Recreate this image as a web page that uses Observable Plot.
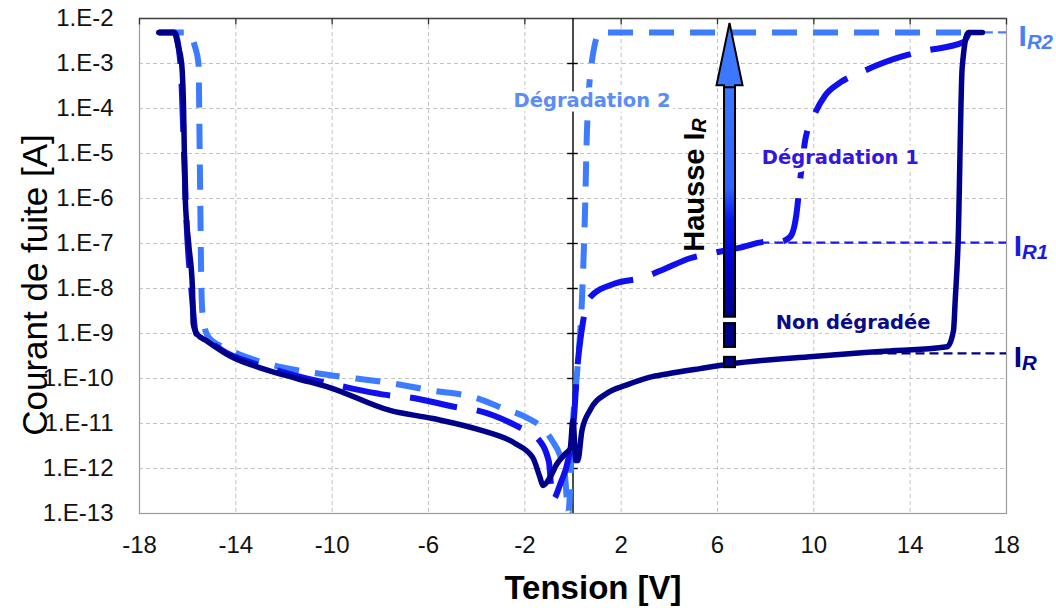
<!DOCTYPE html>
<html><head><meta charset="utf-8">
<script src="https://cdn.jsdelivr.net/npm/d3@7"></script>
<script src="https://cdn.jsdelivr.net/npm/@observablehq/plot@0.6"></script>
<style>body{margin:0;background:#fff}#chart svg{display:block}</style>
</head><body><div id="chart"></div>
<script>
// ---------- data ----------
const xTicks = [-18, -14, -10, -6, -2, 2, 6, 10, 14, 18];
const yTicks = [1e-2, 1e-3, 1e-4, 1e-5, 1e-6, 1e-7, 1e-8, 1e-9, 1e-10, 1e-11, 1e-12, 1e-13];
const yTickLabels = ["1.E-2","1.E-3","1.E-4","1.E-5","1.E-6","1.E-7","1.E-8","1.E-9","1.E-10","1.E-11","1.E-12","1.E-13"];

// Non dégradée (solid)
const nonDegV = [-17.2,-16.55,-16.4,-16.25,-16.17,-16.1,-15.96,-15.8,-15.77,-15.63,-15.22,-14.26,-12.89,-11.47,-10.1,-7.6,-5.82,-3.8,-2.4,-1.67,-1.37,-1.25,-0.96,-0.67,-0.33,-0.12,0.0,0.12,0.2,0.37,0.7,1.41,2.24,3.2,3.9,5.27,6.52,9.97,12.76,15.54,15.8,15.87,15.99,16.16,16.41,17.0];
const nonDegI = [4.9e-3,4.9e-3,2.5e-3,1e-3,1e-4,1e-6,1e-7,1e-8,1.66e-9,1e-9,6.9e-10,3.2e-10,1.66e-10,1e-10,6.3e-11,1.95e-11,1.29e-11,7e-12,3.6e-12,1.74e-12,6.3e-13,4.2e-13,6.3e-13,1.26e-12,2.1e-12,2.75e-12,1.17e-11,1.5e-12,1.5e-12,6.9e-12,1.95e-11,4.7e-11,7.2e-11,1.07e-10,1.26e-10,1.66e-10,2.1e-10,3.1e-10,4.0e-10,5.1e-10,1.17e-9,5.4e-9,1.05e-7,8.1e-4,4.9e-3,4.9e-3];

// Dégradation 1 (medium blue dashed)
const deg1V = [-17.2,-16.55,-16.3,-16.15,-16.05,-15.85,-15.65,-15.2,-14.3,-12.9,-11.4,-9.7,-7.6,-6.78,-4.83,-3.99,-2.2,-1.5,-1.0,-0.85,-0.5,-0.2,0.05,0.16,0.37,0.7,1.74,2.9,3.82,4.86,5.7,6.94,8.07,8.6,9.02,9.27,9.43,9.64,9.97,10.47,11.1,11.93,13.7,14.5,16.2,16.45];
const deg1I = [4.9e-3,4.9e-3,1e-3,1e-5,3.2e-7,1e-8,1e-9,7.1e-10,3.5e-10,1.9e-10,1.12e-10,6.9e-11,4.2e-11,3.8e-11,2.3e-11,1.95e-11,8.1e-12,4.9e-12,1.41e-12,2e-13,5e-13,1.58e-12,1.58e-11,1.26e-10,1.26e-9,6.3e-9,1.29e-8,1.74e-8,2.75e-8,4.7e-8,6e-8,8.1e-8,1.1e-7,1.1e-7,1.41e-7,4.2e-7,2.5e-6,1.95e-5,6.3e-5,1.95e-4,3.8e-4,6.3e-4,1.45e-3,1.86e-3,2.95e-3,4.9e-3];

// Dégradation 2 (light blue dashed)
const deg2V = [-17.2,-16.0,-15.71,-15.55,-15.5,-15.42,-15.34,-15.1,-14.4,-13.14,-11.35,-10.0,-7.7,-5.86,-4.08,-2.83,-1.92,-1.25,-0.87,-0.54,-0.33,-0.2,0.0,0.2,0.37,0.5,0.58,0.79,1.12,16.4];
const deg2I = [4.9e-3,4.9e-3,2.5e-3,1e-3,1e-5,6.3e-9,1.66e-9,7.9e-10,4.7e-10,2.5e-10,1.5e-10,1.17e-10,8.1e-11,5.4e-11,3.8e-11,2.1e-11,1.35e-11,7.8e-12,4.2e-12,1.95e-12,6.9e-13,1e-13,1.17e-11,2.1e-10,5.4e-9,5.4e-7,3.2e-5,1.17e-3,4.9e-3,4.9e-3];

// Reference levels I_R, I_R1, I_R2
const refNames = ["I_R", "I_R1", "I_R2"];
const refLevels = [3.6e-10, 1.05e-7, 4.9e-3];
const refStartV = [12.5, 7.8, 16.5];
const refEndV = [18, 18, 18];
const refLabelV = [18.3, 18.3, 18.5];

// Curve labels
const labelTexts = ["Dégradation 2", "Dégradation 1", "Non dégradée"];
const labelV = [0.79, 11.1, 11.63];
const labelI = [1.5e-4, 8.1e-6, 1.74e-9];

// "Hausse I_R" arrow
const arrowV = 6.52;
const arrowTipI = 7.8e-3;
const arrowHeadBaseI = 3.2e-4;
const arrowShaftBottomI = 2.3e-9;
const arrowDashTopI = [1.66e-9, 2.95e-10];
const arrowDashBottomI = [4.9e-10, 1.74e-10];
const hausseV = 5.05, hausseI = 2.0e-6;

// ---------- styling ----------
const cNavy = "#00008b", cMid = "#1010ee", cLight = "#3d7bff";
const refColors = [cNavy, "#1a1ae6", "#4a80f5"];
const labelColors = ["#5a8ef5", "#3515e0", "#0a0a8a"];
const rows = (V, I) => V.map((v, i) => ({V: v, I: I[i]}));
const refRows = refNames.map((n, i) => ({name: n, I: refLevels[i], x1: refStartV[i], x2: refEndV[i], lx: refLabelV[i], color: refColors[i]}));
const labelRows = labelTexts.map((t, i) => ({t, V: labelV[i], I: labelI[i], color: labelColors[i]}));
const decadeTicks = yTicks.slice(1, -1);
const labelFont = "'DejaVu Sans', Verdana, sans-serif";

const plot = Plot.plot({
  width: 1056, height: 608,
  marginLeft: 139, marginRight: 50, marginTop: 18, marginBottom: 95,
  style: {fontFamily: "'Liberation Sans', Arial, sans-serif", fontSize: "24px", color: "#111", background: "#fff", overflow: "visible"},
  x: {domain: [-18, 18], label: null},
  y: {type: "log", domain: [1e-13, 1e-2], label: null},
  marks: [
    Plot.gridX(xTicks.slice(1, -1), {stroke: "#c4c4c4", strokeOpacity: 1, strokeDasharray: "4,3"}),
    Plot.gridY(decadeTicks, {stroke: "#c4c4c4", strokeOpacity: 1, strokeDasharray: "4,3"}),
    Plot.frame({stroke: "#9a9a9a", strokeWidth: 1.2}),
    Plot.ruleY([1e-2], {stroke: "#444", strokeWidth: 1.6}),
    Plot.ruleX(xTicks, {y1: 1e-2, y2: 7.2e-3, stroke: "#333", strokeWidth: 1.3}),
    Plot.ruleX([0], {stroke: "#000", strokeWidth: 1.4}),
    Plot.ruleY(decadeTicks, {x1: -0.22, x2: 0.22, stroke: "#000", strokeWidth: 1.4}),
    Plot.axisX(xTicks, {tickSize: 0, tickPadding: 22, tickFormat: d => String(d), fontSize: 24, fill: "#111"}),
    Plot.axisY(yTicks, {tickSize: 0, tickPadding: 26, tickFormat: d => yTickLabels[yTicks.indexOf(d)], fontSize: 24, fill: "#111"}),
    // reference levels
    Plot.ruleY(refRows, {y: "I", x1: "x1", x2: "x2", stroke: "color", strokeWidth: 2.2, strokeDasharray: "9,5"}),
    // curves
    Plot.line(rows(deg2V, deg2I), {x: "V", y: "I", stroke: cLight, strokeWidth: 6, strokeDasharray: "25,16", strokeLinecap: "butt", curve: "monotone-x", clip: true}),
    Plot.line(rows(deg1V, deg1I), {x: "V", y: "I", stroke: cMid, strokeWidth: 6, strokeDasharray: "48,20", strokeLinecap: "butt", curve: "monotone-x", clip: true}),
    Plot.line(rows(nonDegV, nonDegI), {x: "V", y: "I", stroke: cNavy, strokeWidth: 5.5, curve: "monotone-x", clip: true}),
    // curve labels
    Plot.text(labelRows, {x: "V", y: "I", text: "t", fill: "color", stroke: "white", strokeWidth: 9, paintOrder: "stroke", strokeLinejoin: "round", fontFamily: labelFont, fontWeight: "bold", fontSize: 19.5}),
    // reference labels
    Plot.text(refRows, {x: "lx", y: "I", text: "name", fill: "color", textAnchor: "start", fontFamily: "'Liberation Sans', Arial, sans-serif", fontWeight: "bold", fontSize: 30, dy: 4}),
    // Hausse label
    Plot.text(["Hausse I_R"], {x: hausseV, y: hausseI, rotate: -90, fill: "#000", fontFamily: "'Liberation Sans Narrow', 'Arial Narrow', 'Liberation Sans', sans-serif", fontWeight: "bold", fontSize: 29}),
    // axis titles
    Plot.text(["Courant de fuite [A]"], {frameAnchor: "left", textAnchor: "middle", lineAnchor: "middle", dx: -104, dy: 19, rotate: -90, fontSize: 35, fill: "#000", fontFamily: "'Liberation Sans', Arial, sans-serif"}),
    Plot.text(["Tension [V]"], {frameAnchor: "bottom", textAnchor: "middle", lineAnchor: "middle", dx: 20, dy: 75, fontSize: 33, fontWeight: "bold", fill: "#000", fontFamily: "'Liberation Sans', Arial, sans-serif"})
  ]
});
document.getElementById("chart").appendChild(plot);

// ---------- post-processing: subscripts and arrow ----------
const svg = d3.select(plot);
svg.selectAll("text").each(function() {
  const t = this.textContent;
  if (!t.includes("_")) return;
  const [main, sub] = t.split("_");
  const el = d3.select(this);
  el.text(null);
  el.append("tspan").text(main);
  el.append("tspan").text(sub).attr("font-size", "0.68em").attr("font-style", "italic").attr("dy", "0.12em");
});

const sx = plot.scale("x"), sy = plot.scale("y");
const ax = sx.apply(arrowV);
const yTip = sy.apply(arrowTipI), yBase = sy.apply(arrowHeadBaseI), yBot = sy.apply(arrowShaftBottomI);
const defs = svg.append("defs");
const grad = defs.append("linearGradient").attr("id", "hausseGrad").attr("x1", 0).attr("y1", 0).attr("x2", 0).attr("y2", 1);
[[0, "#3c78ff"], [0.45, "#2f62ff"], [0.58, "#0a18f0"], [0.78, "#0000cc"], [1, "#00008e"]].forEach(([o, c]) => grad.append("stop").attr("offset", o).attr("stop-color", c));
const g = svg.append("g").attr("class", "arrow");
const sw = 5.5;
arrowDashTopI.forEach((top, i) => {
  const y1 = sy.apply(top), y2 = sy.apply(arrowDashBottomI[i]);
  g.append("rect").attr("x", ax - sw).attr("y", y1).attr("width", 2 * sw).attr("height", y2 - y1)
    .attr("fill", cNavy).attr("stroke", "#000").attr("stroke-width", 2);
});
g.append("rect").attr("x", ax - sw).attr("y", yBase - 2).attr("width", 2 * sw).attr("height", yBot - yBase + 2)
  .attr("fill", "url(#hausseGrad)").attr("stroke", "#000").attr("stroke-width", 2);
g.append("path").attr("d", `M${ax},${yTip} L${ax + 13},${yBase} L${ax + sw},${yBase} L${ax + sw},${yBase + 2} L${ax - sw},${yBase + 2} L${ax - sw},${yBase} L${ax - 13},${yBase} Z`)
  .attr("fill", "#3c78ff").attr("stroke", "#000").attr("stroke-width", 2).attr("stroke-linejoin", "miter");
</script>
</body></html>
